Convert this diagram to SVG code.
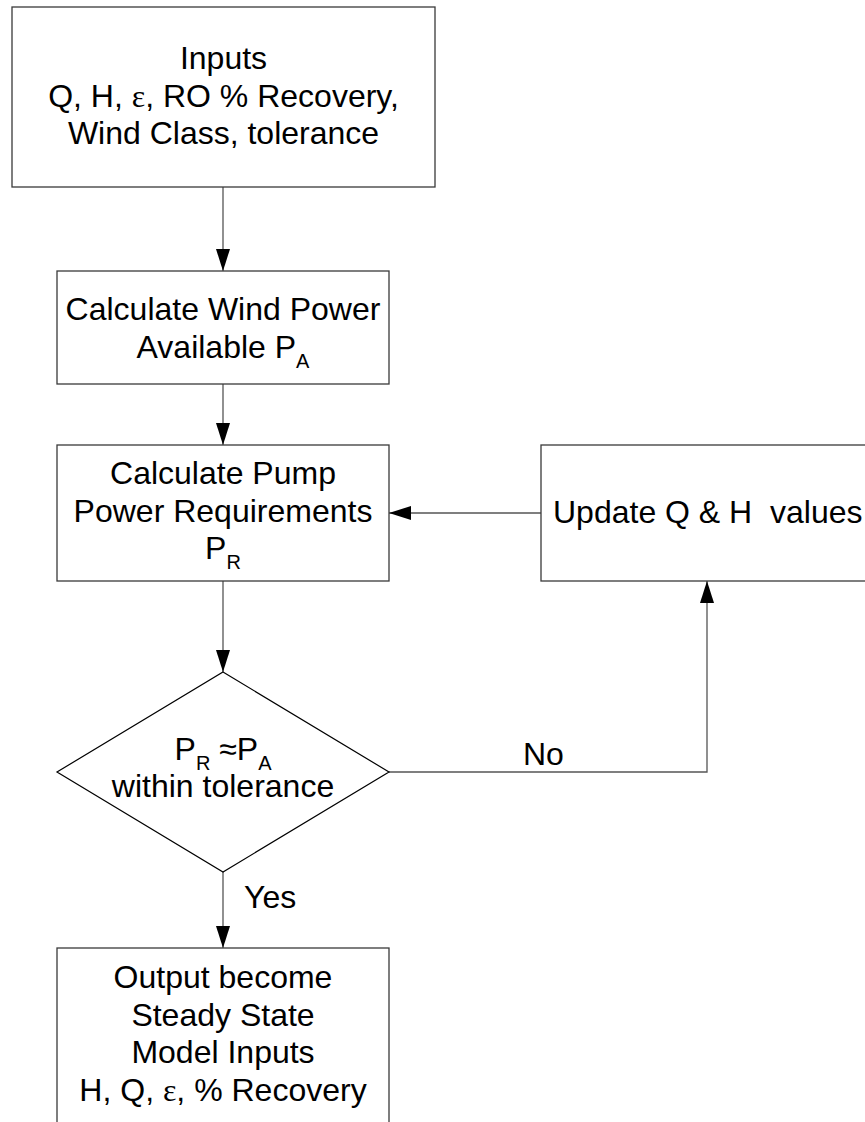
<svg xmlns="http://www.w3.org/2000/svg" width="865" height="1122" viewBox="0 0 865 1122">
<style>
  .box{fill:#fff;stroke:#3a3a3a;stroke-width:1.3}
  .dia{fill:#fff;stroke:#000;stroke-width:1.2}
  .t{font-family:"Liberation Sans",Arial,sans-serif;font-size:32px;fill:#000}
  .c{text-anchor:middle}
  .sub{font-size:20px}
  .eps{font-family:"Liberation Serif","Times New Roman",serif}
  .con{fill:none;stroke:#555;stroke-width:1.3}
</style>
<defs>
  <marker id="ah" markerUnits="userSpaceOnUse" markerWidth="22" markerHeight="14" refX="22" refY="7" orient="auto">
    <path d="M0,0 L22,7 L0,14 Z" fill="#000"/>
  </marker>
</defs>
<rect width="865" height="1122" fill="#fff"/>
<g id="connectors">
  <line class="con" x1="223" y1="187" x2="223" y2="271" marker-end="url(#ah)"/>
  <line class="con" x1="223" y1="384" x2="223" y2="445" marker-end="url(#ah)"/>
  <line class="con" x1="223" y1="581" x2="223" y2="672" marker-end="url(#ah)"/>
  <line class="con" x1="223" y1="872" x2="223" y2="948" marker-end="url(#ah)"/>
  <polyline class="con" points="389,772 707,772 707,581" marker-end="url(#ah)"/>
  <line class="con" x1="541" y1="513" x2="389" y2="513" marker-end="url(#ah)"/>
  <text class="t" x="523" y="765">No</text>
  <text class="t" x="244" y="908">Yes</text>
</g>
<g id="inputs">
  <rect class="box" x="12" y="7" width="423" height="180"/>
  <text class="t c" x="223.5" y="69">Inputs</text>
  <text class="t c" x="223.5" y="106.5">Q, H, <tspan class="eps">ε</tspan>, RO % Recovery,</text>
  <text class="t c" x="223.5" y="144">Wind Class, tolerance</text>
</g>
<g id="wind-power">
  <rect class="box" x="57" y="271" width="332" height="113"/>
  <text class="t c" x="223" y="320">Calculate Wind Power</text>
  <text class="t c" x="223" y="357.5">Available P<tspan class="sub" dy="10">A</tspan></text>
</g>
<g id="pump-power">
  <rect class="box" x="57" y="445" width="332" height="136"/>
  <text class="t c" x="223" y="484">Calculate Pump</text>
  <text class="t c" x="223" y="521.5">Power Requirements</text>
  <text class="t c" x="223" y="559">P<tspan class="sub" dy="10">R</tspan></text>
</g>
<g id="update">
  <rect class="box" x="541" y="445" width="340" height="136"/>
  <text class="t" x="553" y="523" xml:space="preserve">Update Q &amp; H  values</text>
</g>
<g id="decision">
  <polygon class="dia" points="223,672 389,772 223,872 57,772"/>
  <text class="t c" x="223" y="760">P<tspan class="sub" dy="10">R</tspan><tspan dy="-10"> ≈P</tspan><tspan class="sub" dy="10">A</tspan><tspan x="223" y="797">within tolerance</tspan></text>
</g>
<g id="output">
  <rect class="box" x="57" y="948" width="332" height="190"/>
  <text class="t c" x="223" y="988">Output become</text>
  <text class="t c" x="223" y="1025.7">Steady State</text>
  <text class="t c" x="223" y="1063.4">Model Inputs</text>
  <text class="t c" x="223" y="1101">H, Q, <tspan class="eps">ε</tspan>, % Recovery</text>
</g>
</svg>
